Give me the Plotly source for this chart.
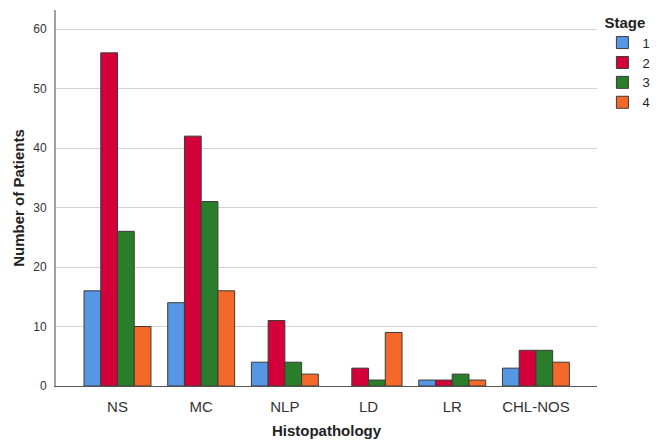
import plotly.graph_objects as go

categories = ["NS", "MC", "NLP", "LD", "LR", "CHL-NOS"]
stages = ["1", "2", "3", "4"]
stage1 = [16, 14, 4, 0, 1, 3]
stage2 = [56, 42, 11, 3, 1, 6]
stage3 = [26, 31, 4, 1, 2, 6]
stage4 = [10, 16, 2, 9, 1, 4]
colors = ["#5597e3", "#d4003a", "#2a7d2a", "#f4692a"]
y_ticks = [0, 10, 20, 30, 40, 50, 60]

fig = go.Figure()
for name, vals, col in zip(stages, [stage1, stage2, stage3, stage4], colors):
    fig.add_trace(go.Bar(
        x=categories, y=vals, name=name,
        marker=dict(color=col,
                    line=dict(color="#3a3a3a", width=[0 if v == 0 else 1 for v in vals])),
    ))

fig.update_layout(
    width=650, height=432,
    margin=dict(l=48, r=61, t=2, b=54, autoexpand=False),
    paper_bgcolor="white", plot_bgcolor="white",
    barmode="group", bargap=0.2, bargroupgap=0.0,
    font=dict(family="Liberation Sans, Arial, sans-serif", color="#222"),
    legend=dict(
        title=dict(text="<b>Stage</b>", font=dict(size=15)),
        x=1.01, y=1.005, xanchor="left", yanchor="top",
        font=dict(size=13), tracegroupgap=0, itemwidth=30,
    ),
    xaxis=dict(
        range=[-0.735, 5.73], showline=True, linecolor="#555555", linewidth=1,
        ticks="", ticklabelstandoff=7, tickfont=dict(size=15, color="#333"), automargin=False,
        title=dict(text="<b>Histopathology</b>", font=dict(size=15), standoff=11),
        showgrid=False,
    ),
    yaxis=dict(
        range=[0, 63.2], tickvals=y_ticks, showline=True, linecolor="#a0a0a0", linewidth=2,
        ticks="", ticklabelstandoff=5, automargin=False,
        tickfont=dict(size=12, color="#333"),
        gridcolor="#d3d3d3", gridwidth=1, zeroline=False,
        title=dict(text="<b>Number of Patients</b>", font=dict(size=15), standoff=5),
    ),
)

fig.write_html("out.html")
